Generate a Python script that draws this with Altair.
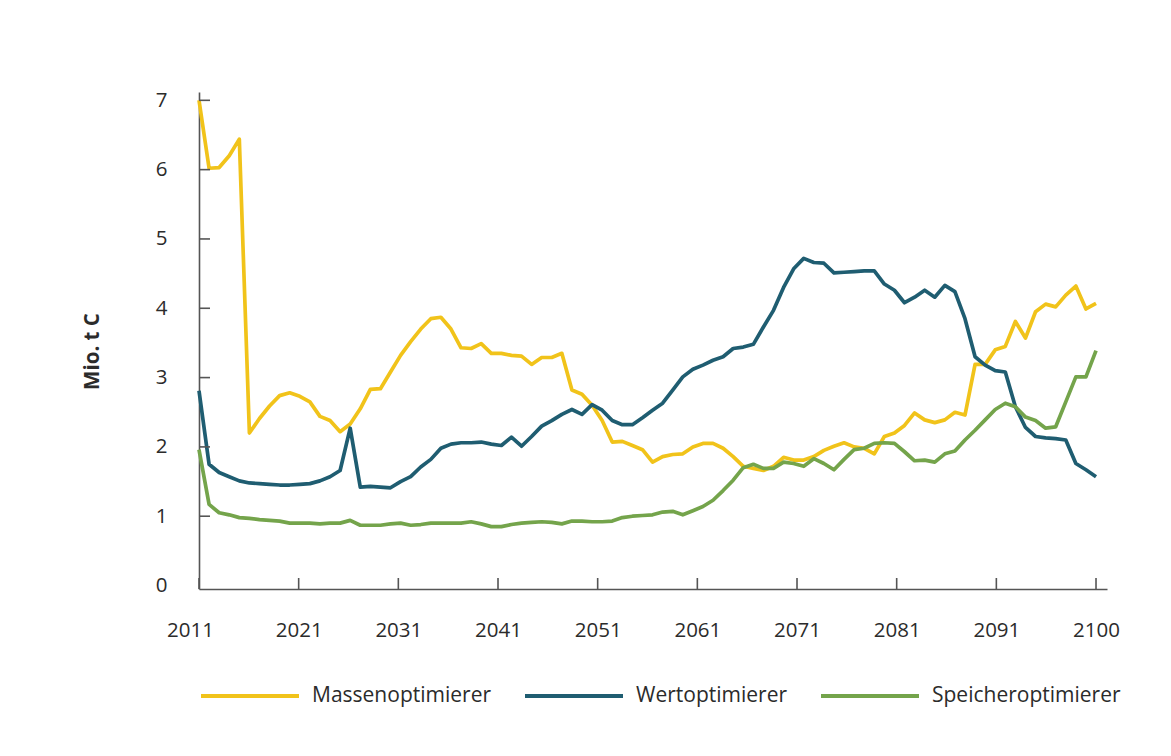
import json
import altair as alt
import pandas as pd

# ---------------- data ----------------
years = list(range(2011, 2101))

massen = [
    7.00, 6.02, 6.03, 6.20, 6.44, 2.20, 2.41, 2.59, 2.74, 2.78,
    2.73, 2.65, 2.44, 2.38, 2.22, 2.33, 2.55, 2.83, 2.84, 3.08,
    3.32, 3.52, 3.70, 3.85, 3.87, 3.70, 3.43, 3.42, 3.49, 3.35,
    3.35, 3.32, 3.31, 3.19, 3.29, 3.29, 3.35, 2.82, 2.76, 2.60,
    2.38, 2.07, 2.08, 2.02, 1.96, 1.78, 1.86, 1.89, 1.90, 2.00,
    2.05, 2.05, 1.98, 1.86, 1.72, 1.69, 1.66, 1.72, 1.85, 1.81,
    1.81, 1.86, 1.95, 2.01, 2.06, 2.00, 1.98, 1.90, 2.15, 2.20,
    2.31, 2.49, 2.39, 2.35, 2.39, 2.50, 2.46, 3.19, 3.19, 3.40,
    3.45, 3.81, 3.57, 3.95, 4.06, 4.02, 4.19, 4.32, 3.99, 4.07,
]

wert = [
    2.81, 1.75, 1.63, 1.57, 1.51, 1.48, 1.47, 1.46, 1.45, 1.45,
    1.46, 1.47, 1.51, 1.57, 1.66, 2.27, 1.42, 1.43, 1.42, 1.41,
    1.50, 1.57, 1.71, 1.82, 1.98, 2.04, 2.06, 2.06, 2.07, 2.04,
    2.02, 2.14, 2.01, 2.15, 2.30, 2.38, 2.47, 2.54, 2.47, 2.61,
    2.53, 2.38, 2.32, 2.32, 2.42, 2.53, 2.63, 2.82, 3.01, 3.12,
    3.18, 3.25, 3.30, 3.42, 3.44, 3.48, 3.73, 3.97, 4.30, 4.57,
    4.72, 4.66, 4.65, 4.51, 4.52, 4.53, 4.54, 4.54, 4.35, 4.26,
    4.08, 4.16, 4.26, 4.16, 4.33, 4.24, 3.85, 3.30, 3.18, 3.10,
    3.08, 2.58, 2.28, 2.15, 2.13, 2.12, 2.10, 1.76, 1.67, 1.57,
]

speicher = [
    1.96, 1.17, 1.05, 1.02, 0.98, 0.97, 0.95, 0.94, 0.93, 0.90,
    0.90, 0.90, 0.89, 0.90, 0.90, 0.94, 0.87, 0.87, 0.87, 0.89,
    0.90, 0.87, 0.88, 0.90, 0.90, 0.90, 0.90, 0.92, 0.89, 0.85,
    0.85, 0.88, 0.90, 0.91, 0.92, 0.91, 0.89, 0.93, 0.93, 0.92,
    0.92, 0.93, 0.98, 1.00, 1.01, 1.02, 1.06, 1.07, 1.02, 1.08,
    1.14, 1.23, 1.37, 1.52, 1.70, 1.75, 1.69, 1.69, 1.78, 1.76,
    1.72, 1.83, 1.76, 1.67, 1.82, 1.96, 1.98, 2.05, 2.06, 2.05,
    1.93, 1.80, 1.81, 1.78, 1.90, 1.94, 2.10, 2.24, 2.39, 2.54,
    2.63, 2.58, 2.43, 2.38, 2.27, 2.29, 2.65, 3.01, 3.01, 3.39,
]

series_names = ["Massenoptimierer", "Wertoptimierer", "Speicheroptimierer"]
series_colors = ["#f1c31a", "#1f5d71", "#74a44b"]
x_tick_labels = ["2011", "2021", "2031", "2041", "2051",
                 "2061", "2071", "2081", "2091", "2100"]
y_tick_values = [0, 1, 2, 3, 4, 5, 6, 7]
y_title = "Mio. t C"

# ---------------- table ----------------
rows = []
for name, vals in zip(series_names, [massen, wert, speicher]):
    for yr, v in zip(years, vals):
        rows.append({"Jahr": yr, "Wert": v, "Szenario": name})
df = pd.DataFrame(rows)

# ticks evenly spread over the year range, as in the reference
n_int = len(x_tick_labels) - 1
span = years[-1] - years[0]
x_tick_pos = [years[0] + i * span / n_int for i in range(len(x_tick_labels))]
label_expr = f"{json.dumps(x_tick_labels)}[round((datum.value - {years[0]}) * {n_int} / {span})]"

W, H = 908, 497
FONT = "Open Sans"
AXIS_COL = "#555555"
TEXT_COL = "#2b2b2b"
LABEL_SIZE = 20.5

x_scale = alt.Scale(domain=[2011, 2101.09], nice=False, zero=False)
y_scale = alt.Scale(domain=[-0.05, 7.12], nice=False, zero=False)

lines = alt.Chart(df).mark_line(strokeWidth=3.7, strokeJoin="round").encode(
    x=alt.X("Jahr:Q", scale=x_scale,
            axis=alt.Axis(values=x_tick_pos, labelExpr=label_expr, ticks=False, tickSize=0,
                          grid=False, title=None, labelPadding=31, labelFlush=False,
                          labelFontSize=LABEL_SIZE, labelFont=FONT, labelColor=TEXT_COL,
                          labelOffset={"condition": {"test": "datum.value < 2012", "value": -9},
                                       "value": 0},
                          domainColor=AXIS_COL, domainWidth=1.6)),
    y=alt.Y("Wert:Q", scale=y_scale,
            axis=alt.Axis(values=y_tick_values, format="d", ticks=False, tickSize=0,
                          grid=False, title=y_title, labelPadding=32,
                          labelFontSize=LABEL_SIZE, labelFont=FONT, labelColor=TEXT_COL,
                          titleFont=FONT, titleFontSize=20.5, titleFontWeight="bold",
                          titleColor=TEXT_COL, titleX=-107, titleY=259,
                          titleAlign="center", titleBaseline="middle", titleAngle=-90,
                          domainColor=AXIS_COL, domainWidth=1.6)),
    color=alt.Color("Szenario:N",
                    scale=alt.Scale(domain=series_names, range=series_colors),
                    legend=alt.Legend(orient="none", legendX=0, legendY=553,
                                      direction="horizontal", title=None,
                                      symbolType="stroke", symbolSize=9604,
                                      symbolStrokeWidth=4, labelFontSize=21,
                                      labelFont=FONT, labelColor=TEXT_COL,
                                      labelOffset=11, columnPadding=25,
                                      labelLimit=400)),
)

ytick_df = pd.DataFrame({"v": y_tick_values[1:]})
yticks = alt.Chart(ytick_df).mark_rule(color=AXIS_COL, strokeWidth=1.6).encode(
    y=alt.Y("v:Q", scale=y_scale),
    x=alt.value(0),
    x2=alt.value(11),
)

xtick_df = pd.DataFrame({"t": x_tick_pos})
xticks = alt.Chart(xtick_df).mark_rule(color=AXIS_COL, strokeWidth=1.6).encode(
    x=alt.X("t:Q", scale=x_scale),
    y=alt.value(H),
    y2=alt.value(H - 11),
)

chart = alt.layer(lines, yticks, xticks).properties(
    width=W, height=H,
    background="white",
    padding={"left": 191, "top": 84, "right": 56, "bottom": 150},
    autosize=alt.AutoSizeParams(type="none"),
).configure_view(stroke=None)

chart.save("out.html", embed_options={"renderer": "svg", "actions": False})
